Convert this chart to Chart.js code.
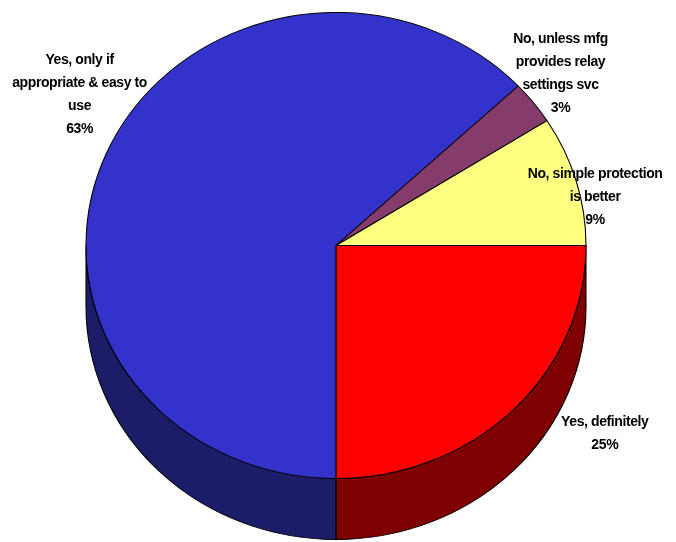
<!DOCTYPE html>
<html>
<head>
<meta charset="utf-8">
<script src="https://cdn.jsdelivr.net/npm/chart.js@4"></script>
<style>
  html, body { margin: 0; padding: 0; background: #fff; }
  #wrap { width: 676px; height: 542px; }
</style>
</head>
<body>
<div id="wrap"><canvas id="chart" width="676" height="542"></canvas></div>
<script>
// answers (each label split into the lines shown on the chart)
const categories = [
    ["Yes, definitely"],
    ["Yes, only if", "appropriate & easy to", "use"],
    ["No, unless mfg", "provides relay", "settings svc"],
    ["No, simple protection", "is better"]
];
const percents = [25, 63, 3, 9];

const topColors = ["#FF0000", "#3333CC", "#853C6D", "#FFFF80"];
const sideColors = ["#7F0000", "#1C1C68", "#4A2040", "#80803F"];

// how far each label sits from the rim at its slice's middle
const labelNudge = [[92, 23], [-27, -58], [27, -29], [19, 17]];

const RX = 250;      // wanted horizontal radius on screen
const DEPTH = 61;    // thickness of the disc

function squash(chart, arc) {
    const ctx = chart.ctx;
    const sx = RX / arc.outerRadius;
    ctx.translate(arc.x, arc.y);
    ctx.scale(sx, 1);
    ctx.translate(-arc.x, -arc.y);
}

const pie3d = {
    id: 'pie3d',
    beforeDatasetsDraw(chart) {
        const ctx = chart.ctx;
        const arcs = chart.getDatasetMeta(0).data;
        if (!arcs.length) return;
        ctx.save();
        squash(chart, arcs[0]);

        arcs.forEach((arc, i) => {
            const a0 = Math.max(arc.startAngle, 0);
            const a1 = Math.min(arc.endAngle, Math.PI);
            if (a1 <= a0) return;
            const r = arc.outerRadius;
            ctx.beginPath();
            ctx.arc(arc.x, arc.y, r, a0, a1);
            ctx.lineTo(arc.x + r * Math.cos(a1), arc.y + r * Math.sin(a1) + DEPTH);
            ctx.arc(arc.x, arc.y + DEPTH, r, a1, a0, true);
            ctx.closePath();
            ctx.fillStyle = sideColors[i];
            ctx.fill();
            ctx.lineWidth = 1;
            ctx.strokeStyle = "#000";
            ctx.stroke();
        });
        // transform stays on while the pie top is drawn
    },
    afterDatasetsDraw(chart) {
        if (chart.getDatasetMeta(0).data.length) chart.ctx.restore();
    },
    afterDraw(chart) {
        const ctx = chart.ctx;
        const arcs = chart.getDatasetMeta(0).data;
        ctx.save();
        ctx.font = "bold 14px 'Liberation Sans', Arial, sans-serif";
        ctx.letterSpacing = "-0.4px";
        ctx.fillStyle = "#000";
        ctx.textAlign = "center";
        ctx.textBaseline = "middle";
        const lineH = 23;

        arcs.forEach((arc, i) => {
            const mid = (arc.startAngle + arc.endAngle) / 2;
            const ry = arc.outerRadius;
            const ex = arc.x + RX * Math.cos(mid);
            const ey = arc.y + ry * Math.sin(mid);
            const lines = categories[i].concat([percents[i] + "%"]);
            const x = ex + labelNudge[i][0];
            const y0 = ey + labelNudge[i][1] - (lines.length - 1) * lineH / 2;
            lines.forEach((t, k) => ctx.fillText(t, x, y0 + k * lineH));
        });
        ctx.restore();
    }
};

new Chart(document.getElementById('chart'), {
    type: 'pie',
    data: {
        labels: categories,
        datasets: [{
            data: percents,
            backgroundColor: topColors,
            borderColor: "#000",
            borderWidth: 1,
            clip: false
        }]
    },
    options: {
        responsive: false,
        animation: false,
        rotation: 90,
        layout: { padding: { left: 86, right: 90, top: 12, bottom: 63 } },
        plugins: {
            legend: { display: false },
            tooltip: { enabled: false }
        }
    },
    plugins: [pie3d]
});
</script>
</body>
</html>
